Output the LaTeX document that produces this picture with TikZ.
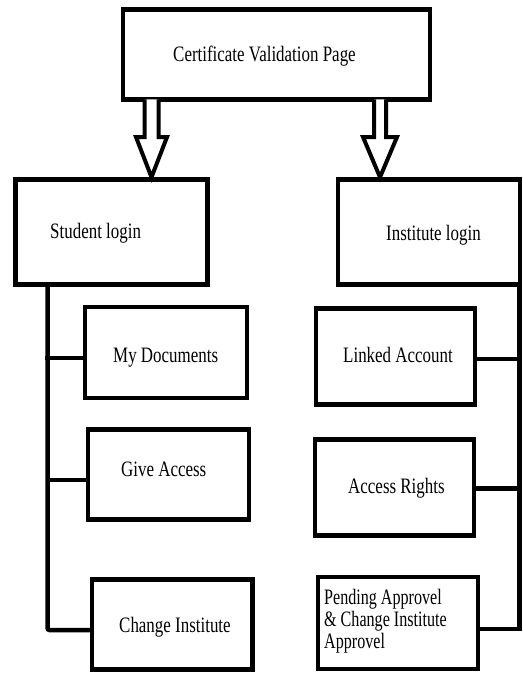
\documentclass[tikz,border=0pt]{standalone}
\usepackage{fontspec}
\usepackage{graphicx}
\setmainfont[FakeStretch=0.77]{Liberation Serif}
\usetikzlibrary{calc}
\begin{document}
\begin{tikzpicture}[x=1pt,y=-1pt,
  box/.style={draw=black, line width=4.5pt, inner sep=0pt, rectangle},
  txt/.style={inner sep=0pt, anchor=base west, font=\fontsize{22}{22}\selectfont},
  conn/.style={draw=black, line width=4.5pt},
  hollow/.style={draw=black, line width=4pt, fill=white, line join=miter}]
\useasboundingbox (0,0) rectangle (522,674);
% boxes
\node[box, minimum width=307pt, minimum height=90pt] (cvp) at (276.5,54.5) {};
\node[box, minimum width=192pt, minimum height=105pt] (sl) at (111.5,232) {};
\node[box, minimum width=182pt, minimum height=105pt] (il) at (429,232) {};
\node[box, minimum width=162pt, minimum height=91pt] (md) at (166,352.5) {};
\node[box, minimum width=161pt, minimum height=90pt] (ga) at (168.5,474.5) {};
\node[box, minimum width=160.5pt, minimum height=90pt] (ci) at (172.25,624.5) {};
\node[box, minimum width=159pt, minimum height=96pt] (la) at (395.5,356.5) {};
\node[box, minimum width=159pt, minimum height=96pt] (ar) at (394.5,487.5) {};
\node[box, line width=4pt, minimum width=159.5pt, minimum height=91.5pt] (pa) at (397.75,622.75) {};
% texts
\node[txt] (t-cvp) at (173,62) {Certificate Validation Page};
\node[txt] (t-sl) at (50,238) {Student login};
\node[txt] (t-il) at (386,240) {Institute login};
\node[txt] (t-md) at (113,362) {My Documents};
\node[txt] (t-ga) at (121,476) {Give Access};
\node[txt] (t-ci) at (119,632) {Change Institute};
\node[txt] (t-la) at (343,362) {Linked Account};
\node[txt] (t-ar) at (348,493) {Access Rights};
\node[inner sep=0pt, anchor=base west] (t-pa) at (324,604)
  {\scalebox{0.95}[1]{\parbox[t]{160pt}{\raggedright\fontsize{22}{22.3}\selectfont Pending Approvel\\ \& Change Institute\\ Approvel}}};
% hollow arrows
\coordinate (a1) at (151.5,99.5);
\coordinate (a2) at (380,99.5);
\draw[hollow] ($(a1)+(-7,0)$) -- ($(a1)+(-7,37.5)$) -- ($(a1)+(-15.5,37.5)$) -- (a1 |- sl.north)
  -- ($(a1)+(15.5,37.5)$) -- ($(a1)+(7,37.5)$) -- ($(a1)+(7,0)$);
\draw[hollow] ($(a2)+(-6,0)$) -- ($(a2)+(-6,37.5)$) -- ($(a2)+(-17,37.5)$) -- (a2 |- il.north)
  -- ($(a2)+(17,37.5)$) -- ($(a2)+(6,37.5)$) -- ($(a2)+(6,0)$);
% left tree
\coordinate (ltop) at (47.5,284.5);
\coordinate (lbot) at (47.5,630);
\coordinate (lj1) at (45,358);
\coordinate (lj2) at (47.5,480);
\draw[conn, rounded corners=2pt] (ltop) -- (lbot) -- (lbot -| ci.west);
\draw[conn] (lj1) -- (lj1 -| md.west);
\draw[conn] (lj2) -- (lj2 -| ga.west);
% right tree
\coordinate (rtop) at (519.5,284.5);
\coordinate (rbot) at (519.5,629);
\coordinate (rj1) at (519.5,359);
\coordinate (rj2) at (519.5,488.5);
\draw[conn] (rtop) -- (rbot) -- (rbot -| pa.east);
\draw[conn] (rj1) -- (rj1 -| la.east);
\draw[conn] (rj2) -- (rj2 -| ar.east);
\end{tikzpicture}
\end{document}
